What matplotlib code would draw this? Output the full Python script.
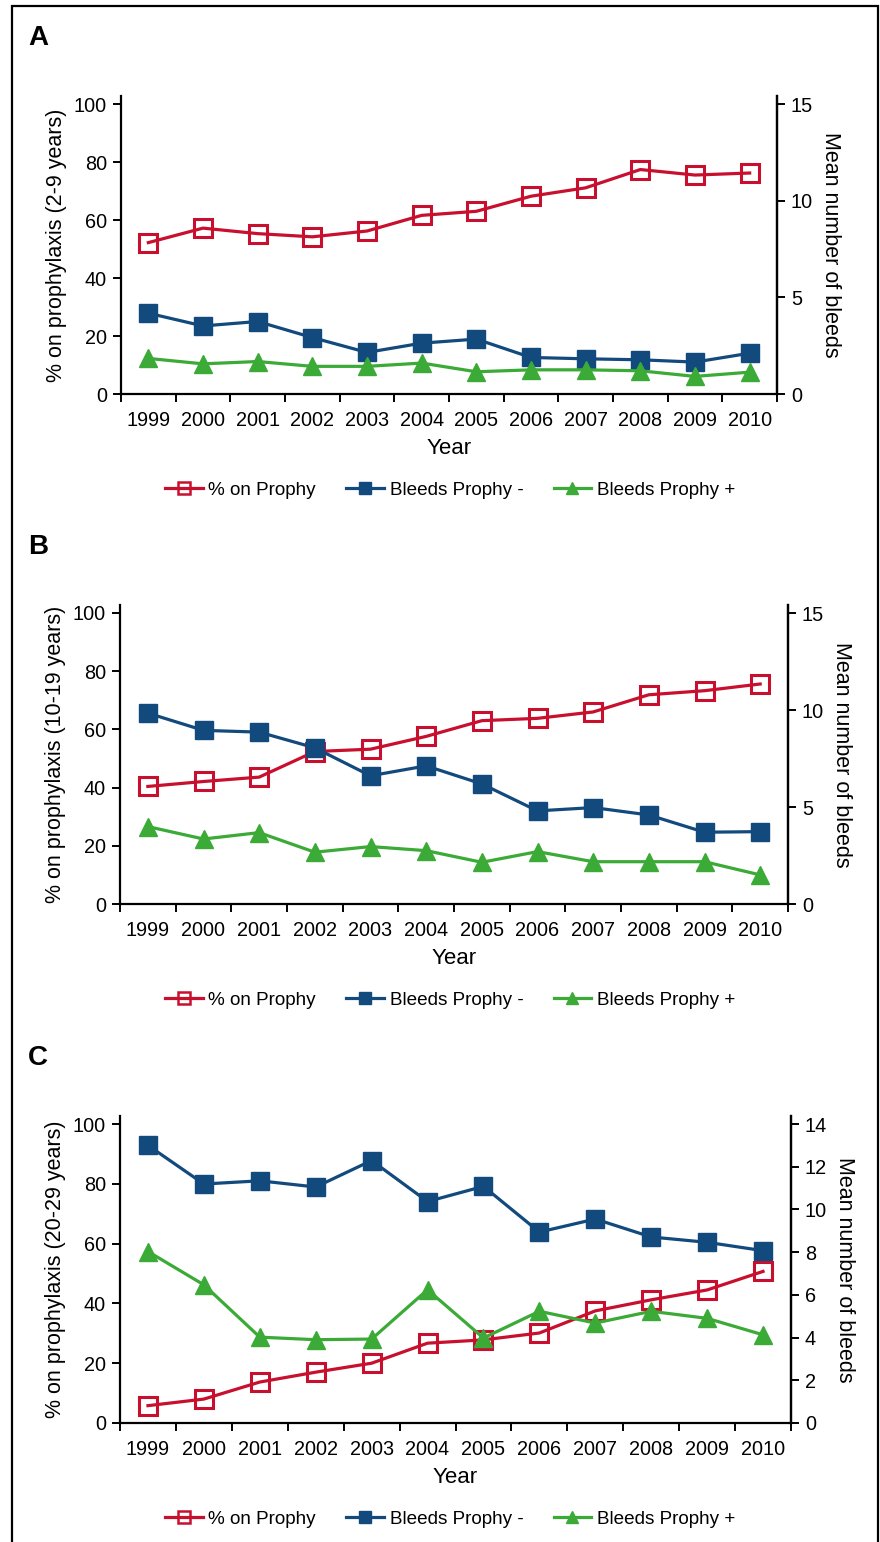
import numpy as np
import matplotlib
matplotlib.use('Agg')
import matplotlib.pyplot as plt
from matplotlib.patches import Rectangle
from matplotlib.lines import Line2D

plt.rcParams['font.family'] = ['Liberation Sans', 'DejaVu Sans']

years = ['1999', '2000', '2001', '2002', '2003', '2004',
         '2005', '2006', '2007', '2008', '2009', '2010']

# panel A (2-9 years)
a_prophy = [52.2, 57.2, 55.3, 54.2, 56.2, 61.6, 63.0, 68.2, 71.1, 77.4, 75.5, 76.2]
a_bleeds_neg = [4.18, 3.52, 3.75, 2.92, 2.15, 2.63, 2.84, 1.89, 1.82, 1.77, 1.65, 2.11]
a_bleeds_pos = [1.84, 1.56, 1.68, 1.43, 1.43, 1.60, 1.15, 1.25, 1.25, 1.20, 0.91, 1.13]

# panel B (10-19 years)
b_prophy = [40.4, 42.1, 43.6, 52.4, 53.2, 57.6, 63.0, 63.8, 66.0, 71.9, 73.3, 75.6]
b_bleeds_neg = [9.84, 8.95, 8.86, 8.05, 6.61, 7.12, 6.19, 4.80, 4.97, 4.59, 3.70, 3.73]
b_bleeds_pos = [3.99, 3.35, 3.68, 2.67, 2.96, 2.75, 2.15, 2.70, 2.18, 2.18, 2.18, 1.50]

# panel C (20-29 years)
c_prophy = [5.8, 8.0, 13.7, 17.0, 20.0, 26.7, 27.8, 30.1, 37.5, 41.2, 44.5, 50.7]
c_bleeds_neg = [13.0, 11.19, 11.34, 11.05, 12.29, 10.37, 11.08, 8.94, 9.55, 8.71, 8.46, 8.07]
c_bleeds_pos = [8.03, 6.47, 4.02, 3.90, 3.93, 6.24, 3.98, 5.23, 4.68, 5.23, 4.90, 4.13]

RED = '#C8102E'
BLUE = '#124A7E'
GREEN = '#3BAA36'
FS = 14.3

W, H = 880, 1542
fig = plt.figure(figsize=(W / 100, H / 100), dpi=100)
fig.patch.set_facecolor('white')

# outer frame
fig.patches.append(Rectangle((12 / W, -0.01), (878 - 12) / W, (H - 6) / H + 0.01,
                             transform=fig.transFigure, fill=False,
                             edgecolor='black', linewidth=1.6))


def panel(letter, left, right, top, bottom, ylabel, prophy, neg, pos, rmax, rstep):
    # top of axes is ~8 px above the top tick
    ext = 8.0 / (bottom - top)
    ax = fig.add_axes([left / W, 1 - bottom / H, (right - left) / W,
                       (bottom - top) * (1 + ext) / H])
    ax2 = ax.twinx()
    x = np.arange(len(years)) + 0.5

    ax.plot(x, prophy, color=RED, lw=2.3, marker='s', ms=13,
            mfc='none', mec=RED, mew=2.2, zorder=3)
    ax2.plot(x, neg, color=BLUE, lw=2.3, marker='s', ms=12.5,
             mfc=BLUE, mec=BLUE, zorder=3)
    ax2.plot(x, pos, color=GREEN, lw=2.3, marker='^', ms=12.5,
             mfc=GREEN, mec=GREEN, zorder=3)

    ax.set_xlim(0, len(years))
    ax.set_ylim(0, 100 * (1 + ext))
    ax2.set_ylim(0, rmax * (1 + ext))
    ax.set_yticks(np.arange(0, 101, 20))
    ax2.set_yticks(np.arange(0, rmax + 0.1, rstep))

    ax.set_xticks(np.arange(0, len(years) + 1))
    ax.set_xticklabels([])
    ax.set_xticks(x, minor=True)
    ax.set_xticklabels(years, minor=True)
    ax.tick_params(axis='x', which='major', direction='out', length=6, width=1.4)
    ax.tick_params(axis='x', which='minor', length=0, pad=12, labelsize=FS)
    ax.tick_params(axis='y', direction='out', length=6, width=1.4, pad=4, labelsize=FS)
    ax2.tick_params(axis='y', direction='out', length=6, width=1.4, pad=4, labelsize=FS)

    for a in (ax, ax2):
        a.spines['top'].set_visible(False)
        for s in ('left', 'right', 'bottom'):
            a.spines[s].set_linewidth(1.6)
    ax2.spines['left'].set_visible(False)
    ax2.spines['bottom'].set_visible(False)

    ax.set_ylabel(ylabel, fontsize=15.5, labelpad=5)
    ax2.set_ylabel('Mean number of bleeds', fontsize=15.5, rotation=270, labelpad=20)
    ax.set_xlabel('Year', fontsize=16, labelpad=6)

    fig.text(28 / W, 1 - 38 / H - (top - 104) / H, letter, fontsize=20,
             fontweight='bold', va='center', ha='left')

    handles = [
        Line2D([], [], color=RED, lw=2.3, marker='s', ms=8, mfc='none', mec=RED, mew=1.8),
        Line2D([], [], color=BLUE, lw=2.3, marker='s', ms=8, mfc=BLUE, mec=BLUE),
        Line2D([], [], color=GREEN, lw=2.3, marker='^', ms=8, mfc=GREEN, mec=GREEN),
    ]
    fig.legend(handles, ['% on Prophy', 'Bleeds Prophy -', 'Bleeds Prophy +'],
               loc='center', bbox_to_anchor=(450 / W, 1 - (bottom + 96) / H),
               ncol=3, frameon=False, fontsize=13.6, handlelength=2.0,
               handletextpad=0.3, columnspacing=1.6)


panel('A', 121, 777, 104, 394, '% on prophylaxis (2-9 years)',
      a_prophy, a_bleeds_neg, a_bleeds_pos, 15, 5)
panel('B', 120, 788, 613, 904, '% on prophylaxis (10-19 years)',
      b_prophy, b_bleeds_neg, b_bleeds_pos, 15, 5)
panel('C', 120, 791, 1124, 1423, '% on prophylaxis (20-29 years)',
      c_prophy, c_bleeds_neg, c_bleeds_pos, 14, 2)

fig.savefig('out.png', dpi=100, facecolor='white')
